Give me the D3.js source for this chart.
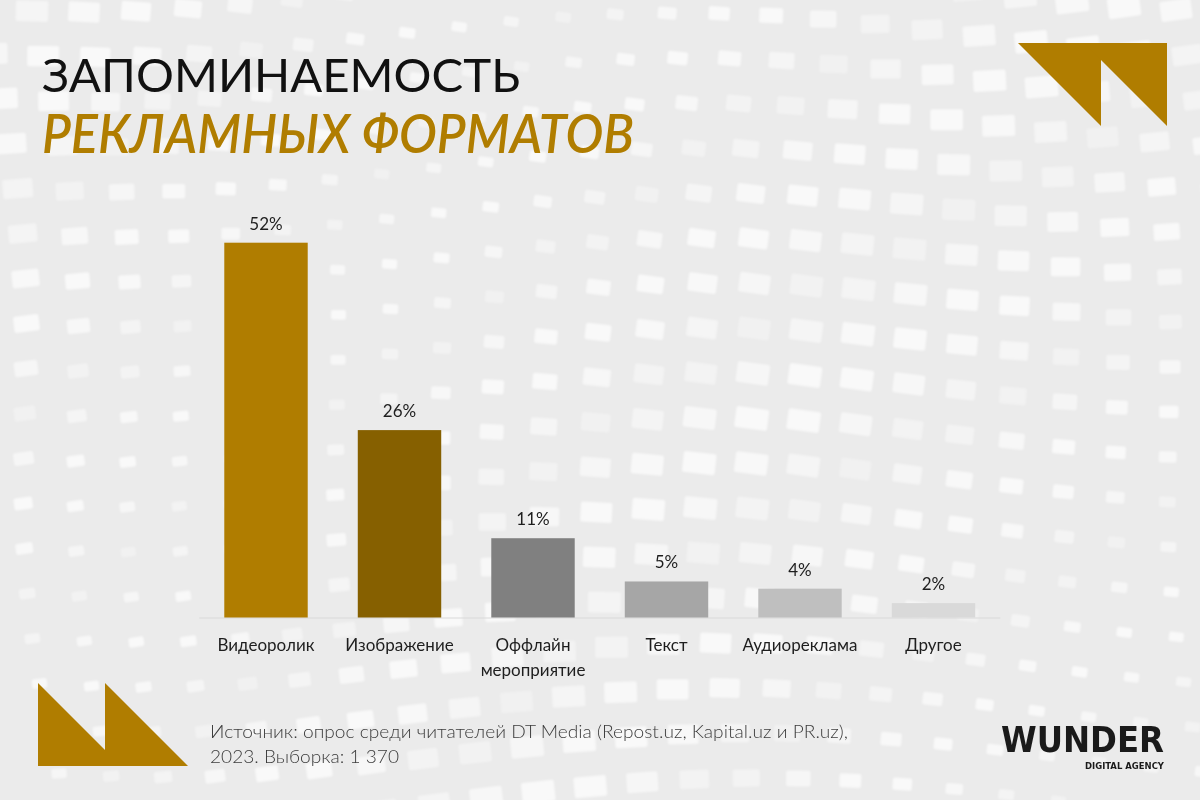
<!DOCTYPE html>
<html>
<head>
<meta charset="utf-8">
<script src="https://cdn.jsdelivr.net/npm/d3@7"></script>
<style>
  html, body { margin: 0; padding: 0; background: #ececec; }
  svg { display: block; }
</style>
</head>
<body>
<div id="chart"></div>
<script>
// chart data
var categories = ["Видеоролик", "Изображение", "Оффлайн мероприятие", "Текст", "Аудиореклама", "Другое"];
var values = [52, 26, 11, 5, 4, 2];
var valueLabels = ["52%", "26%", "11%", "5%", "4%", "2%"];
var barColors = ["#b07d00", "#866000", "#808080", "#a6a6a6", "#bfbfbf", "#d9d9d9"];

var titleLines = ["ЗАПОМИНАЕМОСТЬ", "РЕКЛАМНЫХ ФОРМАТОВ"];
var sourceLines = ["Источник: опрос среди читателей DT Media (Repost.uz, Kapital.uz и PR.uz),", "2023. Выборка: 1 370"];

var width = 1200, height = 800;
var gold = "#b07d00";
var font = "Lato, 'Noto Sans', sans-serif";

var svg = d3.select("#chart").append("svg")
    .attr("width", width)
    .attr("height", height);

// background
svg.append("rect")
    .attr("width", width)
    .attr("height", height)
    .attr("fill", "#ebebeb");

// soft blur for the decorative tiles
svg.append("defs").append("filter")
    .attr("id", "soft")
    .append("feGaussianBlur")
    .attr("stdDeviation", 1.2);

// decorative tiles in the background (wavy grid)
var bg = svg.append("g").attr("class", "tiles").attr("filter", "url(#soft)");
for (var j = 0; j < 19; j++) {
  for (var i = 0; i < 25; i++) {
    var cx = i * 52 + 18 * Math.sin(j * 0.35) + j * 5 - 20;
    var cy = j * 45 + 22 * Math.sin(i * 0.28 + 1) - 10;
    var s = 24 + 9 * Math.cos(i * 0.3 + j * 0.2);
    var op = 0.3 + 0.4 * Math.abs(Math.sin(i * 0.5 + j * 0.7));
    bg.append("rect")
      .attr("x", cx - s / 2)
      .attr("y", cy - s * 0.32)
      .attr("width", s)
      .attr("height", s * 0.64)
      .attr("rx", 2)
      .attr("transform", "rotate(" + (8 * Math.sin(i * 0.2 - j * 0.15)) + "," + cx + "," + cy + ")")
      .attr("fill", "#ffffff")
      .attr("opacity", op);
  }
}

// title
svg.append("text")
    .attr("x", 42)
    .attr("y", 92)
    .attr("font-family", font)
    .attr("font-size", 47)
    .attr("fill", "#111")
    .attr("textLength", 478)
    .attr("lengthAdjust", "spacingAndGlyphs")
    .text(titleLines[0]);

svg.append("text")
    .attr("x", 42)
    .attr("y", 153)
    .attr("font-family", font)
    .attr("font-size", 53)
    .attr("font-style", "italic")
    .attr("font-weight", 600)
    .attr("fill", gold)
    .attr("textLength", 592)
    .attr("lengthAdjust", "spacingAndGlyphs")
    .text(titleLines[1]);

// corner triangles
function triPair(g, pts1, pts2) {
  g.append("polygon").attr("points", pts1.join(" ")).attr("fill", gold);
  g.append("polygon").attr("points", pts2.join(" ")).attr("fill", gold);
}
triPair(svg.append("g"),
  [[1018, 43], [1101, 43], [1101, 126]],
  [[1084, 43], [1167, 43], [1167, 126]]);
triPair(svg.append("g"),
  [[38, 683], [38, 766], [121, 766]],
  [[105, 683], [105, 766], [188, 766]]);

// scales
var x = d3.scaleBand()
    .domain(categories)
    .range([199.25, 1000.25])
    .paddingInner(0.375)
    .paddingOuter(0.1875);

var y = d3.scaleLinear()
    .domain([0, 52])
    .range([617.5, 242.7]);

// baseline
svg.append("line")
    .attr("x1", x.range()[0])
    .attr("x2", x.range()[1])
    .attr("y1", y(0) + 0.5)
    .attr("y2", y(0) + 0.5)
    .attr("stroke", "#d9d9d9")
    .attr("stroke-width", 1.2);

// bars
var bars = svg.append("g").attr("class", "bars");
bars.selectAll("rect")
    .data(categories)
    .enter().append("rect")
    .attr("x", function(d) { return x(d); })
    .attr("y", function(d, i) { return y(values[i]); })
    .attr("width", x.bandwidth())
    .attr("height", function(d, i) { return y(0) - y(values[i]); })
    .attr("fill", function(d, i) { return barColors[i]; });

// value labels
bars.selectAll("text.value")
    .data(categories)
    .enter().append("text")
    .attr("class", "value")
    .attr("x", function(d) { return x(d) + x.bandwidth() / 2; })
    .attr("y", function(d, i) { return y(values[i]) - 13; })
    .attr("text-anchor", "middle")
    .attr("font-family", font)
    .attr("font-size", 17)
    .attr("fill", "#1e1e1e")
    .text(function(d, i) { return valueLabels[i]; });

// category labels
var cat = svg.append("g").attr("class", "categories");
categories.forEach(function(d) {
  var t = cat.append("text")
    .attr("x", x(d) + x.bandwidth() / 2)
    .attr("y", 651)
    .attr("text-anchor", "middle")
    .attr("font-family", font)
    .attr("font-size", 17)
    .attr("fill", "#1e1e1e");
  d.split(" ").forEach(function(w, k) {
    t.append("tspan")
      .attr("x", x(d) + x.bandwidth() / 2)
      .attr("dy", k === 0 ? 0 : 25)
      .text(w);
  });
});

// source note
svg.append("text")
    .attr("x", 210)
    .attr("y", 738)
    .attr("font-family", font)
    .attr("font-size", 18)
    .attr("font-weight", 300)
    .attr("fill", "#3c3c3c")
    .attr("textLength", 638)
    .attr("lengthAdjust", "spacingAndGlyphs")
    .text(sourceLines[0]);

svg.append("text")
    .attr("x", 210)
    .attr("y", 763)
    .attr("font-family", font)
    .attr("font-size", 18)
    .attr("font-weight", 300)
    .attr("fill", "#3c3c3c")
    .attr("textLength", 189)
    .attr("lengthAdjust", "spacingAndGlyphs")
    .text(sourceLines[1]);

// logo
svg.append("text")
    .attr("x", 1001)
    .attr("y", 752)
    .attr("font-family", "'DejaVu Sans Condensed', 'DejaVu Sans', sans-serif")
    .attr("font-weight", "bold")
    .attr("font-size", 35)
    .attr("fill", "#1a1a1a")
    .attr("textLength", 163)
    .attr("lengthAdjust", "spacingAndGlyphs")
    .text("WUNDER");

svg.append("text")
    .attr("x", 1085)
    .attr("y", 769)
    .attr("font-family", "'DejaVu Sans Condensed', 'DejaVu Sans', sans-serif")
    .attr("font-weight", "bold")
    .attr("font-size", 9.5)
    .attr("fill", "#1a1a1a")
    .attr("textLength", 79)
    .attr("lengthAdjust", "spacingAndGlyphs")
    .text("DIGITAL AGENCY");
</script>
</body>
</html>
